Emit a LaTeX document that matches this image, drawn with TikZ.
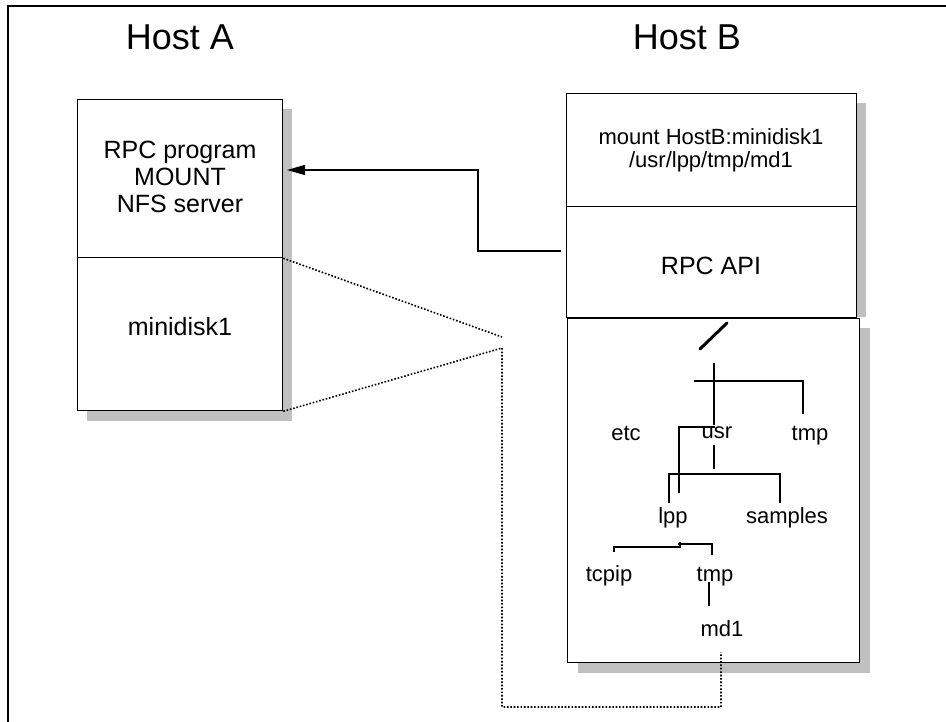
\documentclass[tikz,border=0pt]{standalone}
\usepackage{fontspec}
\setmainfont{Liberation Sans}
\usetikzlibrary{arrows.meta}
\definecolor{shade}{HTML}{C0C0C0}
\tikzset{
  box/.style={draw=black, fill=white, line width=1.3pt, rectangle, inner sep=0pt, anchor=north west},
  shadowbox/.style={fill=shade, draw=none},
  lbl/.style={inner sep=0pt, anchor=base, font=\fontsize{22}{24}\selectfont},
  boxtxt/.style={inner sep=0pt, anchor=base, font=\fontsize{25}{27}\selectfont},
  hosttxt/.style={inner sep=0pt, anchor=base, font=\fontsize{36}{40}\selectfont},
  treeline/.style={line width=1.2pt, black},
  dotline/.style={line width=1.6pt, dash pattern=on 1.6pt off 1.8pt},
  arrowline/.style={line width=1.3pt, -{Triangle[length=18pt,width=10pt]}},
}
\begin{document}
\begin{tikzpicture}[x=1pt,y=-1pt]
\useasboundingbox (0,0) rectangle (946,722);
\fill[white] (0,0) rectangle (946,722);
% frame
\draw[line width=1.5pt] (8,722) -- (8,6) -- (946,6);
% titles
\node[hosttxt] (hostA) at (180,50) {Host A};
\node[hosttxt] (hostB) at (687,50) {Host B};
% shadows
\fill[shadowbox] (87,109) rectangle (292,421);
\fill[shadowbox] (576,103) rectangle (866,317);
\fill[shadowbox] (578,328) rectangle (870,673);
% host A boxes
\node[box, minimum width=205, minimum height=158] (aTop) at (77,99) {};
\node[box, minimum width=205, minimum height=153] (aBot) at (77,257) {};
\node[boxtxt] (t1) at (180,159) {RPC program};
\node[boxtxt] (t2) at (180,186) {MOUNT};
\node[boxtxt] (t3) at (180,213) {NFS server};
\node[boxtxt] (t4) at (180,335) {minidisk1};
% host B boxes
\node[box, minimum width=290, minimum height=113] (bTop) at (566,93) {};
\node[box, minimum width=290, minimum height=111] (bMid) at (566,206) {};
\node[box, minimum width=292, minimum height=344] (bTree) at (567,318) {};
\node[lbl] (m1) at (711,145) {mount HostB:minidisk1};
\node[lbl] (m2) at (711,168) {/usr/lpp/tmp/md1};
\node[boxtxt] (api) at (711,275) {RPC API};
% arrow
\coordinate (arrS) at (561,251);
\coordinate (arrK1) at (478,251);
\coordinate (arrE) at (287,170);
\draw[arrowline] (arrS) -- (arrK1) |- (arrE);
% tree labels
\node[lbl] (etc) at (626,440) {etc};
\node[lbl] (usr) at (717,438) {usr};
\node[lbl] (tmp1) at (810,440) {tmp};
\node[lbl] (lpp) at (673,523) {lpp};
\node[lbl] (samples) at (787,523) {samples};
\node[lbl] (tcpip) at (609,581) {tcpip};
\node[lbl] (tmp2) at (715,581) {tmp};
\node[lbl] (md1) at (722,636) {md1};
% root slash
\coordinate (rs1) at (700,349);
\coordinate (rs2) at (727,323);
\draw[line width=3pt, line cap=round] (rs1) -- (rs2);
% tree connectors
\draw[treeline] (714,363) -- (714,425);
\draw[treeline] (694,381) -- (803,381) -- (803,414);
\draw[treeline] (679,493) -- (679,427) -- (715,427);
\draw[treeline] (714,445) -- (714,469);
\draw[treeline] (669,503) -- (669,474) -- (780,474) -- (780,503);
\draw[treeline] (614,552) -- (614,547) -- (680,547) -- (680,542);
\draw[treeline] (678,544) -- (712,544) -- (712,555);
\draw[treeline] (709,582) -- (709,606);
% dotted mapping lines
\coordinate (d1) at (502,337);
\coordinate (d2) at (502,348);
\coordinate (d3) at (502,707);
\coordinate (d4) at (721,707);
\coordinate (d5) at (721,652);
\draw[dotline] (aTop.south east) -- (d1);
\draw[dotline] (aBot.south east) -- (d2) -- (d3) -- (d4) -- (d5);
\end{tikzpicture}
\end{document}
